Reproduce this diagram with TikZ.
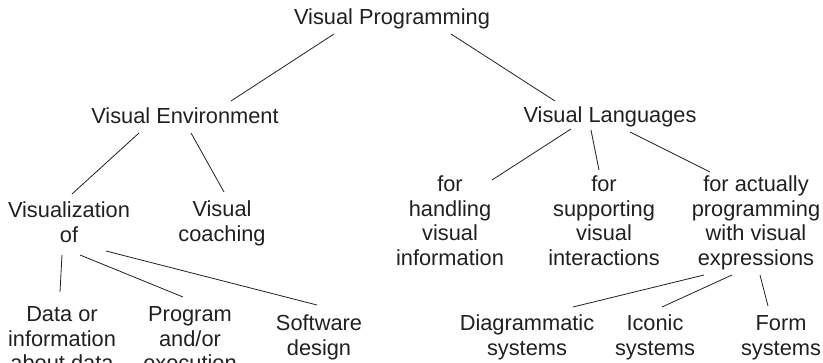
\documentclass[tikz,border=0pt]{standalone}
\usepackage{fontspec}
\setmainfont{Liberation Sans}
\usetikzlibrary{calc}
\definecolor{ink}{RGB}{35,31,32}
% centred multi-line label whose baseline is that of its first line
\newcommand\stack[1]{\begin{tabular}[t]{@{}c@{}}#1\end{tabular}}
\begin{document}
\begin{tikzpicture}[x=1pt,y=-1pt,
  lbl/.style={anchor=base,inner sep=0pt,text=ink,
    font=\fontsize{21.8}{24.5}\selectfont},
  link/.style={draw=ink,line width=0.8pt}]
\useasboundingbox (0,0) rectangle (823,363);

% labels
\node[lbl] (vp)    at (392,25)  {Visual Programming};
\node[lbl] (ve)    at (185,124) {Visual Environment};
\node[lbl] (vl)    at (610,123) {Visual Languages};
\node[lbl] (viz)   at (69,218)  {\stack{Visualization\\of}};
\node[lbl] (coach) at (222,217) {\stack{Visual\\coaching}};
\node[lbl] (hand)  at (450,192) {\stack{for\\handling\\visual\\information}};
\node[lbl] (supp)  at (604,192) {\stack{for\\supporting\\visual\\interactions}};
\node[lbl] (act)   at (756,192) {\stack{for actually\\programming\\with visual\\expressions}};
\node[lbl] (data)  at (62,322)  {\stack{Data or\\information\\about data}};
\node[lbl] (prog)  at (190,322) {\stack{Program\\and/or\\execution}};
\node[lbl] (soft)  at (319,331) {\stack{Software\\design}};
\node[lbl] (diag)  at (527,331) {\stack{Diagrammatic\\systems}};
\node[lbl] (icon)  at (655,331) {\stack{Iconic\\systems}};
\node[lbl] (form)  at (781,331) {\stack{Form\\systems}};

% tree edges
\draw[link] ($(vp.base)+(-58,9)$) -- ($(ve.base)+(46,-23)$);
\draw[link] ($(vp.base)+(59,9)$)  -- ($(vl.base)+(-55,-22)$);

\draw[link] ($(ve.base)+(-46,9)$) -- ($(viz.base)+(3,-24)$);
\draw[link] ($(ve.base)+(6,9)$)   -- ($(coach.base)+(2,-25)$);

\draw[link] ($(vl.base)+(-39,6)$) -- ($(hand.base)+(42,-12)$);
\draw[link] ($(vl.base)+(-19,7)$) -- ($(supp.base)+(-5,-22)$);
\draw[link] ($(vl.base)+(20,9)$)  -- ($(act.base)+(-46,-20)$);

\draw[link] ($(viz.base)+(-7,37)$) -- ($(data.base)+(-2,-30)$);
\draw[link] ($(viz.base)+(11,37)$) -- ($(prog.base)+(-7,-25)$);
\draw[link] ($(viz.base)+(37,33)$) -- ($(soft.base)+(-2,-26)$);

\draw[link] ($(act.base)+(-52,83)$) -- ($(diag.base)+(46,-24)$);
\draw[link] ($(act.base)+(-24,83)$) -- ($(icon.base)+(7,-24)$);
\draw[link] ($(act.base)+(4,83)$)   -- ($(form.base)+(-13,-25)$);
\end{tikzpicture}
\end{document}
